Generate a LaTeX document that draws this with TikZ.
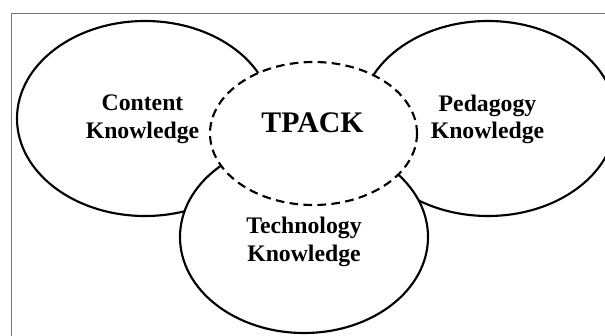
\documentclass[tikz,border=0pt]{standalone}
\usepackage{fontspec}
\setmainfont{Liberation Serif}
\usepackage{tikz}
\newcommand{\kfont}{\fontsize{17.8}{20.5}\selectfont\bfseries}

\begin{document}
\begin{tikzpicture}[x=0.75pt,y=-0.75pt,
	area/.style={draw,line width=1.6pt,fill=white},
	core/.style={draw,line width=1.6pt,dash pattern=on 6.5pt off 4pt,fill=white},
	lbl/.style={inner sep=0pt,align=center,font=\kfont}]
	\useasboundingbox (0,0) rectangle (605,335);
	\clip (0,0) rectangle (605,335);
	\draw[black!55,line width=0.75pt] (11,13.5) rectangle (640,360);
	% the three knowledge areas, bottom one last so it sits on top
	\draw[area] (145,118.5) ellipse [x radius=128,y radius=97.5];
	\draw[area] (488,118.5) ellipse [x radius=128,y radius=97.5];
	\draw[area] (304,237) ellipse [x radius=124,y radius=96];
	% overlap in the middle
	\draw[core] (313.5,133.5) ellipse [x radius=103.5,y radius=71.5];
	\node[lbl] (ck) at (142.5,119.3) {Content\\Knowledge};
	\node[lbl] (pk) at (487.5,119.3) {Pedagogy\\Knowledge};
	\node[lbl] (tk) at (304,242) {Technology\\Knowledge};
	\node[lbl,font=\fontsize{22.4}{26}\selectfont\bfseries] (tpack) at (312.5,122.5) {TPACK};
\end{tikzpicture}
\end{document}
